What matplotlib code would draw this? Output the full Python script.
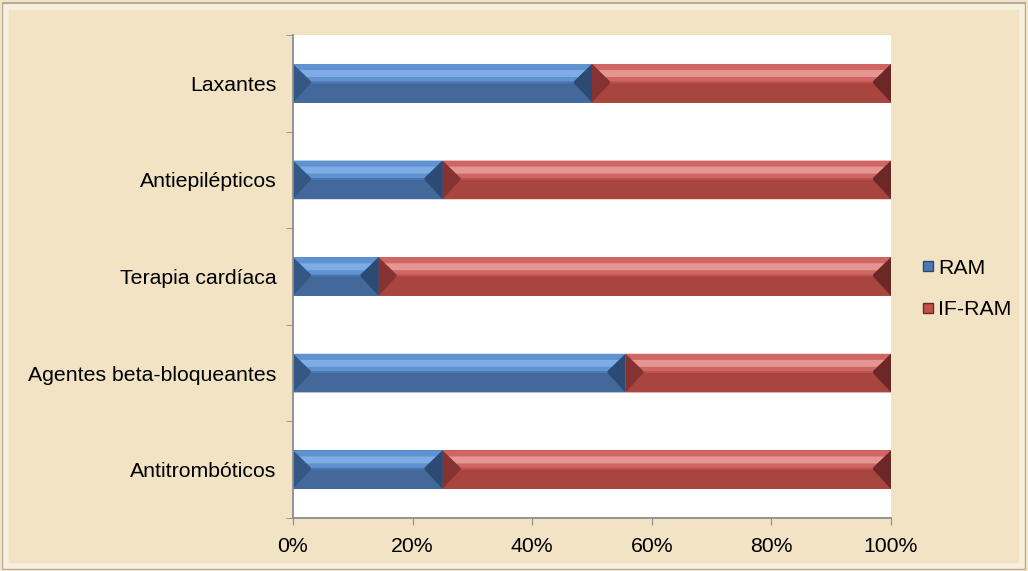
import matplotlib
matplotlib.use("Agg")
import matplotlib.pyplot as plt
from matplotlib.patches import Polygon, Rectangle
from matplotlib.ticker import FuncFormatter, FixedLocator
from matplotlib.lines import Line2D

categorias = ["Antitrombóticos", "Agentes beta-bloqueantes", "Terapia cardíaca",
              "Antiepilépticos", "Laxantes"]
ram = [25.0, 55.6, 14.3, 25.0, 50.0]
if_ram = [75.0, 44.4, 85.7, 75.0, 50.0]
series = ["RAM", "IF-RAM"]

# couleurs : face, haut, reflet, bas, cotes
couleurs = {
    "RAM": ("#4A78B2", "#6091D0", "#86B3EA", "#43699B", "#2C4A74"),
    "IF-RAM": ("#C0504D", "#D06663", "#EBA3A0", "#A8453F", "#6C2826"),
}

W, H = 1028, 571
fig = plt.figure(figsize=(W / 100, H / 100), dpi=100)
fig.patch.set_facecolor("#F1E3C4")

# cadre biseaute du fond
fig.patches.append(Rectangle((0.003, 0.004), 0.994, 0.99, transform=fig.transFigure,
                             fill=False, edgecolor="#A8A29A", linewidth=1.2))
fig.patches.append(Rectangle((0.006, 0.009), 0.988, 0.978, transform=fig.transFigure,
                             fill=False, edgecolor="#F8EFDC", linewidth=4))

ax = fig.add_axes([293 / W, 1 - 518 / H, (891 - 293) / W, (518 - 35) / H])
ax.set_facecolor("white")
ax.set_xlim(0, 100)
ax.set_ylim(-0.5, len(categorias) - 0.5)

hauteur = 0.4
# biseau en pixels -> unites de donnees
bx = 18 * 100 / 598
by = hauteur * 0.45


def barre(x0, y0, w, h, cols):
    face, haut, reflet, bas, cote = cols
    x1, y1 = x0 + w, y0 + h
    b = min(bx, w / 2)
    ym = y1 - by
    ax.add_patch(Rectangle((x0, y0), w, h, facecolor=face, edgecolor="none"))
    ax.add_patch(Polygon([(x0, y1), (x1, y1), (x1 - b, ym), (x0 + b, ym)],
                         facecolor=haut, edgecolor="none"))
    # reflet clair dans la moitie haute
    r0, r1 = y1 - by * 0.35, y1 - by * 0.75
    f0, f1 = b * 0.35, b * 0.75
    ax.add_patch(Polygon([(x0 + f0, r0), (x1 - f0, r0), (x1 - f1, r1), (x0 + f1, r1)],
                         facecolor=reflet, edgecolor="none", alpha=0.8))
    ax.add_patch(Polygon([(x0, y0), (x1, y0), (x1 - b, y0 + h - by - 0.02), (x0 + b, y0 + h - by - 0.02)],
                         facecolor=bas, edgecolor="none"))
    ax.add_patch(Polygon([(x0, y0), (x0, y1), (x0 + b, ym), (x0 + b, ym - 0.02)],
                         facecolor=cote, edgecolor="none", alpha=0.7))
    ax.add_patch(Polygon([(x1, y0), (x1, y1), (x1 - b, ym), (x1 - b, ym - 0.02)],
                         facecolor=cote, edgecolor="none"))


for i in range(len(categorias)):
    barre(0, i - hauteur / 2, ram[i], hauteur, couleurs["RAM"])
    barre(ram[i], i - hauteur / 2, if_ram[i], hauteur, couleurs["IF-RAM"])

fs = 15.3
ax.set_yticks(range(len(categorias)))
ax.set_yticklabels(categorias, fontsize=fs, family="Liberation Sans")
ax.yaxis.set_minor_locator(FixedLocator([i - 0.5 for i in range(len(categorias) + 1)]))
ax.tick_params(axis="y", which="major", length=0, pad=12)
ax.tick_params(axis="y", which="minor", length=5, color="#8C8C8C", direction="out")
ax.set_xticks([0, 20, 40, 60, 80, 100])
ax.xaxis.set_major_formatter(FuncFormatter(lambda v, p: "%d%%" % v))
ax.tick_params(axis="x", length=5, color="#8C8C8C", labelsize=fs, pad=9)
for lab in ax.get_xticklabels():
    lab.set_family("Liberation Sans")

for s in ["top", "right"]:
    ax.spines[s].set_visible(False)
for s in ["left", "bottom"]:
    ax.spines[s].set_color("#8C8C8C")
    ax.spines[s].set_linewidth(1.3)

handles = [Line2D([], [], marker="s", linestyle="none", markersize=7,
                  markerfacecolor=couleurs[s][0], markeredgecolor=couleurs[s][4])
           for s in series]
leg = fig.legend(handles, series, loc="center left", bbox_to_anchor=(896 / W, 1 - 289 / H),
                 frameon=False, handletextpad=-0.1, labelspacing=1.05, handlelength=1.2,
                 prop={"family": "Liberation Sans", "size": fs})

fig.savefig("out.png", dpi=100, facecolor=fig.get_facecolor())
